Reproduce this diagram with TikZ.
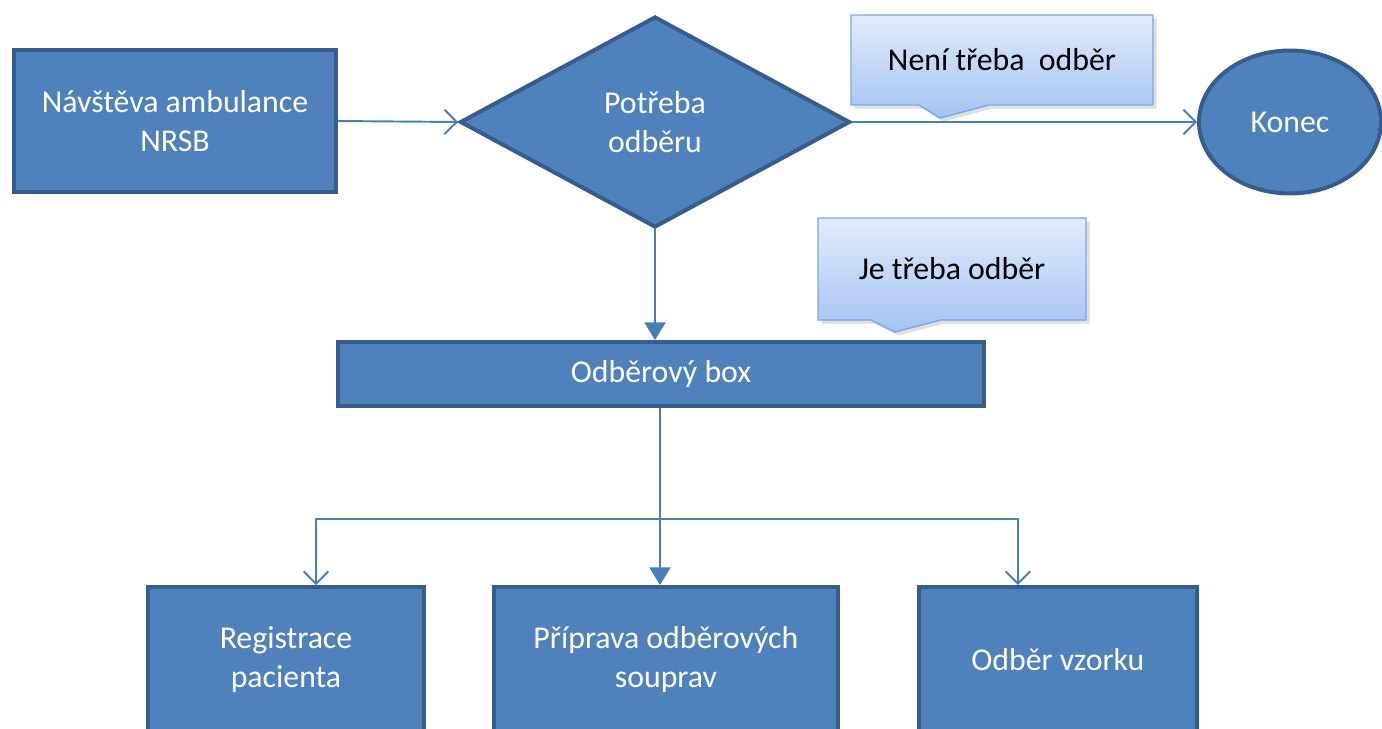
\documentclass[tikz,border=0pt]{standalone}
\usepackage{fontspec}
\setmainfont{Carlito}
\usepackage{tikz}
\usetikzlibrary{positioning,shapes.geometric,shapes.callouts,arrows.meta,shadows}

\definecolor{boxfill}{HTML}{4F81BD}
\definecolor{boxline}{HTML}{385D8A}
\definecolor{conn}{HTML}{4A7EBB}
\definecolor{notetop}{HTML}{E2EBFC}
\definecolor{notebot}{HTML}{A4C3F2}
\definecolor{noteline}{HTML}{7EA6E0}

\begin{document}
\begin{tikzpicture}[x=0.02cm,y=-0.02cm,node distance=2cm,on grid,
   every node/.style={font=\fontsize{18.1}{22.2}\selectfont},
   block/.style={rectangle,draw=boxline,fill=boxfill,line width=0.08cm,
                 text=white,align=center,inner sep=0pt},
   decision/.style={diamond,draw=boxline,fill=boxfill,line width=0.08cm,
                 text=white,align=center,inner sep=0pt,aspect=1.83},
   finish/.style={ellipse,draw=boxline,fill=boxfill,line width=0.08cm,
                 text=white,inner sep=0pt},
   note/.style={rectangle callout,draw=noteline,line width=0.8pt,
                 top color=notetop,bottom color=notebot,text=black,
                 callout pointer width=1.4cm,
                 drop shadow={opacity=0.25,shadow xshift=2pt,shadow yshift=-2pt}},
   barb/.style={draw=conn,line width=1.1pt,-{Straight Barb[length=7pt,width=14pt]}},
   solid tip/.style={draw=conn,line width=1.1pt,-{Triangle[length=10pt,width=12pt]}}]
   \clip (0,0) rectangle (1382,728);
   % top row
   \node[block,minimum width=6.44cm,minimum height=2.84cm] (visit) at (175,121)
        {Návštěva ambulance\\NRSB};
   \node[decision,minimum width=7.8cm,minimum height=4.22cm] (need) at (655,122)
        {Potřeba\\odběru};
   \node[finish,minimum width=3.64cm,minimum height=2.86cm] (konec) at (1290,122) {Konec};
   \node[note,minimum width=6.04cm,minimum height=1.8cm,
         callout absolute pointer={(940,118)}] (nonote) at (1002,60) {Není třeba\ \ odběr};
   % middle
   \node[block,minimum width=12.92cm,minimum height=1.28cm] (box) at (661,374) {Odběrový box};
   \node[note,minimum width=5.36cm,minimum height=2.04cm,
         callout absolute pointer={(895,332)}] (yesnote) at (952,269) {Je třeba odběr};
   % bottom row
   \node[block,minimum width=5.54cm,minimum height=2.92cm] (reg) at (286,660)
        {Registrace\\pacienta};
   \node[block,minimum width=6.88cm,minimum height=2.92cm] (prep) [right=7.6cm of reg]
        {Příprava odběrových\\souprav};
   \node[block,minimum width=5.56cm,minimum height=2.92cm] (sample) [right=7.84cm of prep]
        {Odběr vzorku};
   \coordinate (split) at (660,519);
   \path[barb] (visit.east) -- (need.west);
   \path[barb] (need.east) -- (konec.west);
   \path[solid tip] (need.south) -- (need.south |- box.north);
   \path[solid tip] (split |- box.south) -- (split |- prep.north);
   \path[barb] (split) -| ([xshift=0.6cm]reg.north);
   \path[barb] (split) -| ([xshift=-0.8cm]sample.north);
\end{tikzpicture}
\end{document}
